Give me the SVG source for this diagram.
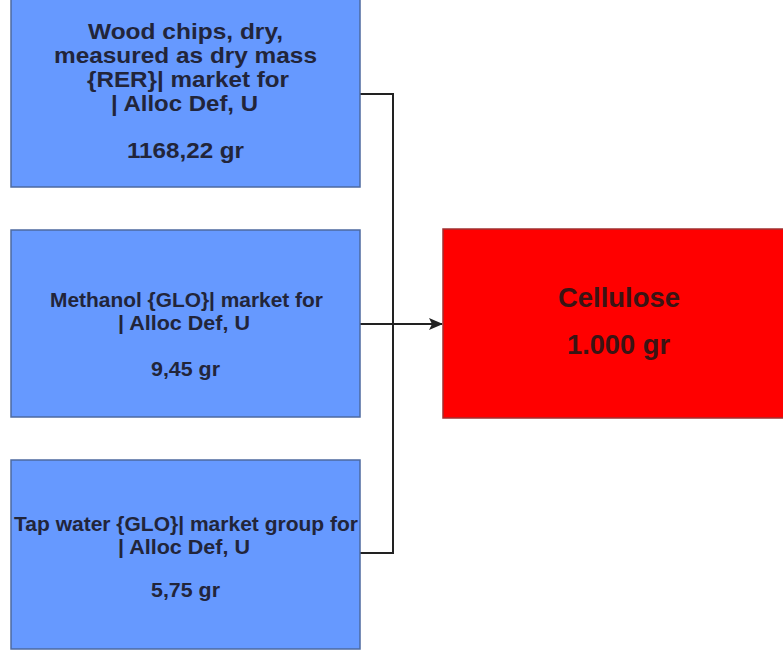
<svg xmlns="http://www.w3.org/2000/svg" width="783" height="652" viewBox="0 0 783 652">
<style>
.in{fill:#6699ff;stroke:#4d6aa0;stroke-width:1.5}
.out{fill:#ff0000;stroke:#a03030;stroke-width:1.5}
text{font-family:"Liberation Sans",Arial,sans-serif;font-weight:bold;fill:#22253a;text-anchor:middle}
.t1{font-size:22.5px}
.t2{font-size:19.5px}
.t3{font-size:28px;fill:#3a1414}
.c{fill:none;stroke:#222;stroke-width:2}
</style>
<defs>
<marker id="ah" markerWidth="14" markerHeight="12" refX="13" refY="6" orient="auto" markerUnits="userSpaceOnUse">
<path d="M0,0 L14,6 L0,12 L3,6 Z" fill="#222"/>
</marker>
</defs>
<rect width="783" height="652" fill="#ffffff"/>
<g id="connectors">
<path class="c" d="M360,94 H393 V553 H360"/>
<path class="c" d="M360,324 H442" marker-end="url(#ah)"/>
</g>
<g id="wood">
<rect class="in" x="11" y="-1" width="349" height="188"/>
<text class="t1" x="185.5" y="39" textLength="195" lengthAdjust="spacingAndGlyphs">Wood chips, dry,</text>
<text class="t1" x="185.5" y="63" textLength="263" lengthAdjust="spacingAndGlyphs">measured as dry mass</text>
<text class="t1" x="188" y="87" textLength="202" lengthAdjust="spacingAndGlyphs">{RER}| market for</text>
<text class="t1" x="184.5" y="111" textLength="147" lengthAdjust="spacingAndGlyphs">| Alloc Def, U</text>
<text class="t1" x="185.5" y="158" textLength="117" lengthAdjust="spacingAndGlyphs">1168,22 gr</text>
</g>
<g id="methanol">
<rect class="in" x="11" y="230" width="349" height="187"/>
<text class="t2" x="186.5" y="307" textLength="273" lengthAdjust="spacingAndGlyphs">Methanol {GLO}| market for</text>
<text class="t2" x="184" y="330" textLength="132" lengthAdjust="spacingAndGlyphs">| Alloc Def, U</text>
<text class="t2" x="185.5" y="376" textLength="69" lengthAdjust="spacingAndGlyphs">9,45 gr</text>
</g>
<g id="tapwater">
<rect class="in" x="11" y="460" width="349" height="189"/>
<text class="t2" x="186" y="531" textLength="344" lengthAdjust="spacingAndGlyphs">Tap water {GLO}| market group for</text>
<text class="t2" x="184" y="554" textLength="132" lengthAdjust="spacingAndGlyphs">| Alloc Def, U</text>
<text class="t2" x="185.5" y="597" textLength="69" lengthAdjust="spacingAndGlyphs">5,75 gr</text>
</g>
<g id="cellulose">
<rect class="out" x="443" y="229" width="350" height="189"/>
<text class="t3" x="619" y="307" textLength="122" lengthAdjust="spacingAndGlyphs">Cellulose</text>
<text class="t3" x="618.5" y="354" textLength="103" lengthAdjust="spacingAndGlyphs">1.000 gr</text>
</g>
</svg>
